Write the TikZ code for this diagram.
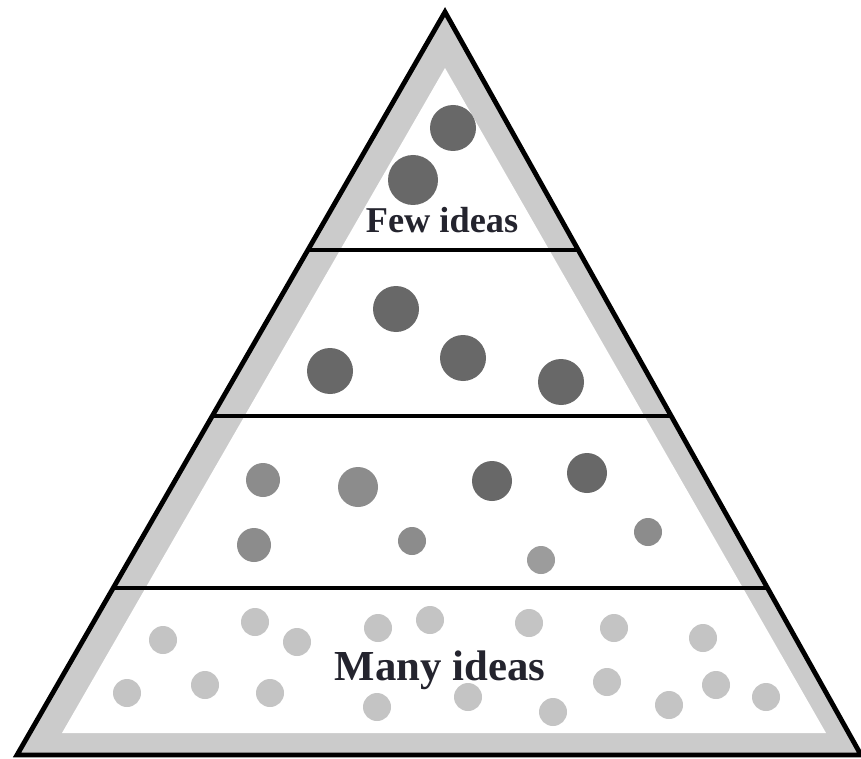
\documentclass[tikz,border=0pt]{standalone}
\usepackage{fontspec}
\setmainfont{Liberation Serif}
\usetikzlibrary{calc}

\definecolor{bandgray}{HTML}{CBCBCB}
\definecolor{ideadark}{HTML}{686868}
\definecolor{ideamid}{HTML}{8C8C8C}
\definecolor{ideapale}{HTML}{9C9C9C}
\definecolor{idealight}{HTML}{C4C4C4}
\definecolor{inkgray}{HTML}{24242E}

\begin{document}
\begin{tikzpicture}[x=0.3mm,y=-0.3mm,
	rim/.style={line width=1.45mm, line join=miter},
	shelf/.style={line width=1.3mm},
	tag/.style={font=\bfseries, text=inkgray, inner sep=0pt, anchor=base}]
%		\draw [help lines, step=50] (0,0) grid (861,759);
		\useasboundingbox (0,0) rectangle (861,759);
		\coordinate (top) at (445,12);
		\coordinate (left) at (17,755);
		\coordinate (right) at (861,755);
		% grey band along the inside of the outline
		\fill [bandgray] (top) -- (left) -- (right) -- cycle;
		\fill [white] (445,68) -- (62,733) -- (826,733) -- cycle;
		% the ideas: x/y/radius/colour
		\foreach \x/\y/\r/\c in {453/128/23/ideadark, 413/180/25/ideadark,
				396/309/23/ideadark, 330/371/23/ideadark, 463/358/23/ideadark, 561/382/23/ideadark,
				263/480/17/ideamid, 358/487/20/ideamid, 492/481/20/ideadark, 587/473/20/ideadark,
				254/545/17/ideamid, 412/541/14/ideamid, 541/560/14/ideapale, 648/532/14/ideamid,
				163/640/14/idealight, 255/622/14/idealight, 297/642/14/idealight, 378/628/14/idealight,
				430/620/14/idealight, 529/623/14/idealight, 614/628/14/idealight, 703/638/14/idealight,
				127/693/14/idealight, 205/685/14/idealight, 270/693/14/idealight, 377/707/14/idealight,
				468/697/14/idealight, 553/712/14/idealight, 607/682/14/idealight, 669/705/14/idealight,
				716/685/14/idealight, 766/697/14/idealight}
			\fill [\c] (\x,\y) circle [radius=\r*0.3mm];
		% levels
		\foreach \f in {0.3203,0.5437,0.7752}
			\draw [shelf] ($(top)!\f!(left)$) -- ($(top)!\f!(right)$);
		\draw [rim] (top) -- (left) -- (right) -- cycle;
		\node [tag, font=\fontsize{31}{36}\selectfont\bfseries] (few) at (442,233) {Few ideas};
		\node [tag, font=\fontsize{36.5}{42}\selectfont\bfseries] (many) at (440,680) {Many ideas};
\end{tikzpicture}
\end{document}
